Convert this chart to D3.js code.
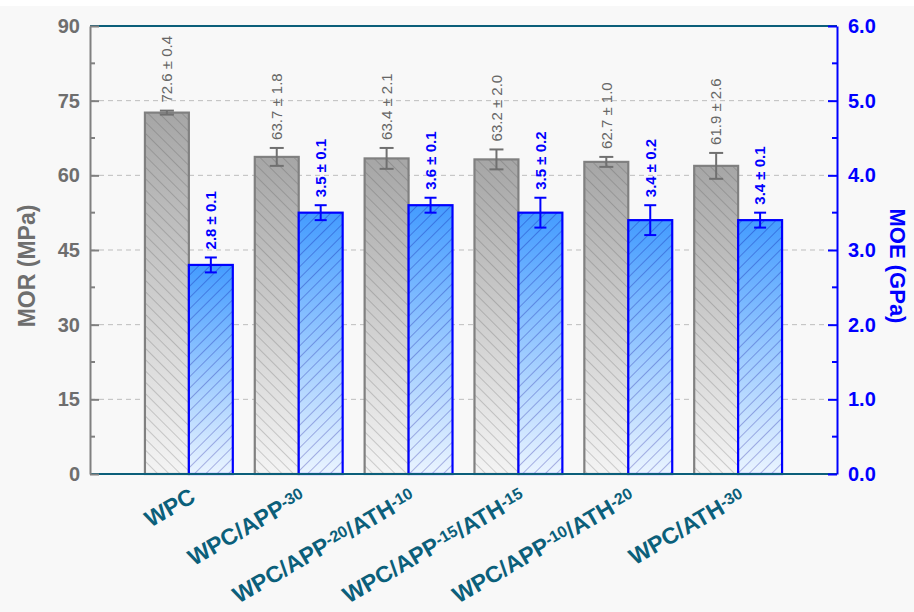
<!DOCTYPE html>
<html>
<head>
<meta charset="utf-8">
<script src="https://cdn.jsdelivr.net/npm/d3@7"></script>
<style>
  html, body { margin: 0; padding: 0; background: #f8f8f8; }
  svg { display: block; }
</style>
</head>
<body>
<svg id="chart" width="914" height="612"></svg>
<script>
// Sample groups
const categories = ["WPC", "WPC/APP-30", "WPC/APP-20/ATH-10", "WPC/APP-15/ATH-15", "WPC/APP-10/ATH-20", "WPC/ATH-30"];
// Modulus of rupture (MPa)
const morMean = [72.6, 63.7, 63.4, 63.2, 62.7, 61.9];
const morErr  = [0.4, 1.8, 2.1, 2.0, 1.0, 2.6];
// Modulus of elasticity (GPa)
const moeMean = [2.8, 3.5, 3.6, 3.5, 3.4, 3.4];
const moeErr  = [0.1, 0.1, 0.1, 0.2, 0.2, 0.1];
// Axis ticks
const morTicks = [0, 15, 30, 45, 60, 75, 90];
const moeTicks = [0.0, 1.0, 2.0, 3.0, 4.0, 5.0, 6.0];

const FONT = "'Liberation Sans', Arial, sans-serif";
const GREY = "#6e6e6e", BLUE = "#0000ff", TEAL = "#0b5f7a";

const svg = d3.select("#chart").style("font-family", FONT);
const L = 90, R = 837, T = 26, B = 474;

svg.append("rect").attr("width", 914).attr("height", 612).attr("fill", "#f8f8f8");
svg.append("rect").attr("width", 914).attr("height", 6).attr("fill", "#ffffff");

const x = d3.scaleBand().domain(categories).range([L, R]).paddingInner(0.2).paddingOuter(0.5);
const sub = d3.scaleBand().domain(["mor", "moe"]).range([0, x.bandwidth()]);
const yL = d3.scaleLinear().domain([0, 90]).range([B, T]);
const yR = d3.scaleLinear().domain([0, 6]).range([B, T]);

// Gradients and hatching
const defs = svg.append("defs");
function grad(id, top, bottom) {
  const g = defs.append("linearGradient").attr("id", id).attr("x1", 0).attr("y1", 0).attr("x2", 0).attr("y2", 1);
  g.append("stop").attr("offset", "0%").attr("stop-color", top);
  g.append("stop").attr("offset", "100%").attr("stop-color", bottom);
}
grad("gGrey", "#a6a6a6", "#f4f4f4");
grad("gBlue", "#449cff", "#eaf4ff");
function hatch(id, angle, color) {
  const p = defs.append("pattern").attr("id", id).attr("patternUnits", "userSpaceOnUse")
    .attr("width", 8).attr("height", 8).attr("patternTransform", `rotate(${angle})`);
  p.append("line").attr("x1", 0).attr("y1", 0).attr("x2", 0).attr("y2", 8)
    .attr("stroke", color).attr("stroke-width", 1.1);
}
hatch("hGrey", -45, "rgba(70,70,70,0.42)");
hatch("hBlue", 45, "rgba(0,0,150,0.5)");

// Grid lines
svg.append("g").selectAll("line").data(morTicks.filter(t => t > 0 && t < 90)).join("line")
  .attr("x1", L).attr("x2", R).attr("y1", d => yL(d)).attr("y2", d => yL(d))
  .attr("stroke", "#bdbdbd").attr("stroke-width", 1).attr("stroke-dasharray", "5,4");

// Bars
function drawBars(key, means, errs, yS, fillGrad, hatchId, stroke, errColor, capW) {
  const g = svg.append("g");
  const xs = (d, i) => x(categories[i]) + sub(key);
  const w = sub.bandwidth();
  g.selectAll("rect.f").data(means).join("rect")
    .attr("x", xs).attr("y", d => yS(d)).attr("width", w).attr("height", d => B - yS(d))
    .attr("fill", `url(#${fillGrad})`);
  g.selectAll("rect.h").data(means).join("rect")
    .attr("x", xs).attr("y", d => yS(d)).attr("width", w).attr("height", d => B - yS(d))
    .attr("fill", `url(#${hatchId})`);
  g.selectAll("rect.s").data(means).join("rect")
    .attr("x", xs).attr("y", d => yS(d)).attr("width", w).attr("height", d => B - yS(d))
    .attr("fill", "none").attr("stroke", stroke).attr("stroke-width", 2.2);
  // error bars
  means.forEach((m, i) => {
    const cx = xs(m, i) + w / 2;
    const y1 = yS(m + errs[i]), y2 = yS(m - errs[i]);
    g.append("line").attr("x1", cx).attr("x2", cx).attr("y1", y1).attr("y2", y2)
      .attr("stroke", errColor).attr("stroke-width", 2);
    [y1, y2].forEach(yy => g.append("line").attr("x1", cx - capW / 2).attr("x2", cx + capW / 2)
      .attr("y1", yy).attr("y2", yy).attr("stroke", errColor).attr("stroke-width", 2));
  });
}
drawBars("mor", morMean, morErr, yL, "gGrey", "hGrey", "#808080", "#707070", 14);
drawBars("moe", moeMean, moeErr, yR, "gBlue", "hBlue", BLUE, BLUE, 12);

// Value labels
function valueLabels(key, means, errs, yS, color, weight, size) {
  svg.append("g").selectAll("text").data(means).join("text")
    .attr("transform", (d, i) => {
      const cx = x(categories[i]) + sub(key) + sub.bandwidth() / 2;
      return `translate(${cx},${yS(d + errs[i]) - 8}) rotate(-90)`;
    })
    .attr("dy", "0.35em")
    .attr("fill", color).attr("font-size", size).attr("font-weight", weight)
    .text((d, i) => `${d.toFixed(1)} ± ${errs[i].toFixed(1)}`);
}
valueLabels("mor", morMean, morErr, yL, "#666666", "normal", 15);
valueLabels("moe", moeMean, moeErr, yR, BLUE, "bold", 15);

// Frame: top and bottom in teal
svg.append("line").attr("x1", L).attr("x2", R).attr("y1", T).attr("y2", T).attr("stroke", TEAL).attr("stroke-width", 2);
svg.append("line").attr("x1", L).attr("x2", R).attr("y1", B).attr("y2", B).attr("stroke", TEAL).attr("stroke-width", 2.2);

// Left axis (MOR)
const axL = d3.axisLeft(yL).tickValues(morTicks).tickSizeInner(-9).tickSizeOuter(0).tickPadding(10);
const gL = svg.append("g").attr("transform", `translate(${L},0)`).call(axL);
gL.select(".domain").attr("stroke", "#808080").attr("stroke-width", 2);
gL.selectAll(".tick line").attr("stroke", "#808080").attr("stroke-width", 2);
gL.selectAll(".tick text").attr("fill", GREY).attr("font-size", 20).attr("font-weight", "bold").attr("font-family", FONT);
svg.append("g").selectAll("line").data(d3.range(7.5, 90, 15)).join("line")
  .attr("x1", L).attr("x2", L + 5).attr("y1", d => yL(d)).attr("y2", d => yL(d))
  .attr("stroke", "#808080").attr("stroke-width", 2);

// Right axis (MOE)
const axR = d3.axisRight(yR).tickValues(moeTicks).tickFormat(d3.format(".1f"))
  .tickSizeInner(-9).tickSizeOuter(0).tickPadding(11);
const gR = svg.append("g").attr("transform", `translate(${R},0)`).call(axR);
gR.select(".domain").attr("stroke", BLUE).attr("stroke-width", 2);
gR.selectAll(".tick line").attr("stroke", BLUE).attr("stroke-width", 2);
gR.selectAll(".tick text").attr("fill", BLUE).attr("font-size", 20).attr("font-weight", "bold").attr("font-family", FONT);
svg.append("g").selectAll("line").data(d3.range(0.5, 6, 1)).join("line")
  .attr("x1", R - 5).attr("x2", R).attr("y1", d => yR(d)).attr("y2", d => yR(d))
  .attr("stroke", BLUE).attr("stroke-width", 2);

// Axis titles
svg.append("text").attr("transform", `translate(35,266) rotate(-90)`).attr("text-anchor", "middle")
  .attr("fill", GREY).attr("font-size", 23).attr("font-weight", "bold").text("MOR (MPa)");
svg.append("text").attr("transform", `translate(890,266) rotate(90)`).attr("text-anchor", "middle")
  .attr("fill", BLUE).attr("font-size", 22).attr("font-weight", "bold").text("MOE (GPa)");

// Category labels with raised, smaller loading numbers
const xl = svg.append("g").selectAll("text").data(categories).join("text")
  .attr("transform", d => `translate(${x(d) + x.bandwidth() / 2 + 8},501) rotate(-30)`)
  .attr("text-anchor", "end").attr("fill", TEAL).attr("font-size", 23).attr("font-weight", "bold");
xl.each(function (d) {
  const t = d3.select(this);
  const parts = d.split(/(-\d+)/).filter(s => s.length);
  parts.forEach(p => {
    if (/^-\d+$/.test(p)) {
      t.append("tspan").attr("font-size", 16).attr("dy", -5).text(p);
      t.append("tspan").attr("dy", 5).text("\u200b");
    } else {
      t.append("tspan").text(p);
    }
  });
});
</script>
</body>
</html>
